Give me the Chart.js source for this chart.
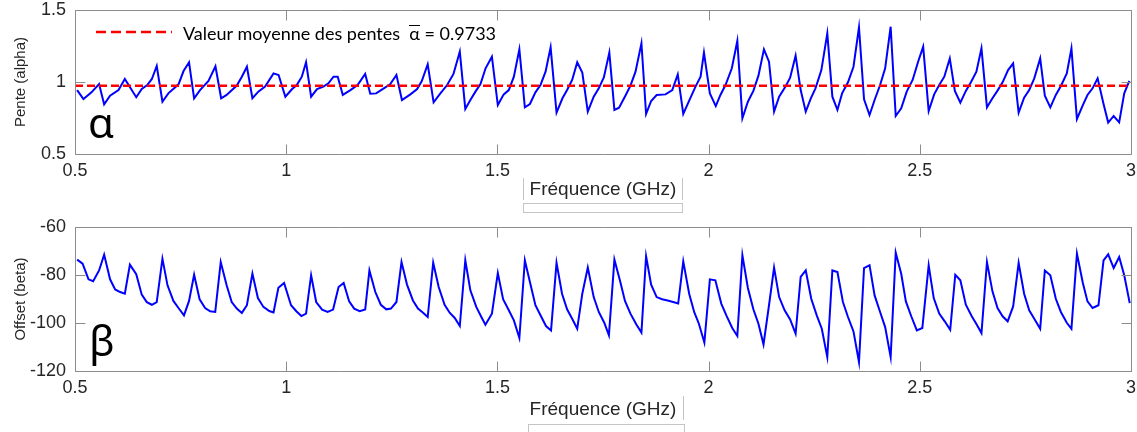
<!DOCTYPE html>
<html><head><meta charset="utf-8">
<script src="https://cdn.jsdelivr.net/npm/chart.js@4.4.0/dist/chart.umd.min.js"></script>
<style>
html,body{margin:0;padding:0;background:#fff;width:1137px;height:432px;overflow:hidden;}
#wrap{position:relative;width:1137px;height:432px;}
canvas{position:absolute;left:0;}
.ov{position:absolute;white-space:nowrap;color:#000;}
.gl{position:absolute;background:#c4c4c4;}
.gb{position:absolute;border:1px solid #c4c4c4;box-sizing:border-box;}
</style></head><body>
<div id="wrap">
<canvas id="c1" width="1137" height="216" style="top:0"></canvas>
<canvas id="c2" width="1137" height="216" style="top:216px"></canvas>
<svg class="ov" style="left:94px;top:28px" width="80" height="8"><line x1="2" y1="4" x2="78" y2="4" stroke="#ff0000" stroke-width="2.5" stroke-dasharray="10,5"/></svg>
<div class="ov" id="leg" style="left:183px;top:24px;font-family:Lato;font-size:18px;line-height:1;">Valeur moyenne des pentes&nbsp;&nbsp;<span style="display:inline-block;border-top:1.5px solid #000;line-height:0.8em;">α</span> = 0.9733</div>
<div class="ov" style="left:88px;top:101px;font-family:'Noto Sans';font-size:42px;line-height:1;">α</div>
<div class="ov" style="left:89px;top:319px;font-family:'Noto Sans';font-size:42px;line-height:1;">β</div>
<div class="gl" style="left:523px;top:178px;width:1px;height:22px;"></div>
<div class="gl" style="left:682px;top:178px;width:1px;height:22px;"></div>
<div class="gb" style="left:523px;top:203px;width:160px;height:10px;"></div>
<div class="gl" style="left:683px;top:396px;width:1px;height:24px;"></div>
<div class="gb" style="left:528px;top:424px;width:157px;height:12px;"></div>
</div>
<script>
const xTicks = [0.5, 1, 1.5, 2, 2.5, 3];
const alphaTicks = [0.5, 1, 1.5];
const betaTicks = [-120, -100, -80, -60];
const meanAlpha = 0.9733;

const freqAlpha = [0.505,0.520,0.539,0.557,0.569,0.583,0.603,0.618,0.645,0.658,0.671,0.682,0.6935,0.707,0.721,0.745,0.757,0.770,0.782,0.796,0.816,0.8325,0.846,0.859,0.883,0.895,0.907,0.920,0.934,0.950,0.970,0.982,
0.998,1.014,1.025,1.037,1.047,1.059,1.073,1.088,1.100,1.112,1.122,1.134,1.152,1.169,1.187,1.199,1.213,1.231,1.246,1.261,1.274,1.294,1.310,1.321,1.335,1.349,1.365,1.381,1.396,1.411,1.424,1.436,1.448,1.460,1.472,1.487,
1.501,1.515,1.527,1.539,1.552,1.565,1.577,1.590,1.602,1.614,1.626,1.640,1.654,1.665,1.677,1.689,1.701,1.714,1.728,1.740,1.752,1.765,1.777,1.788,1.803,1.815,1.827,1.841,1.852,1.864,1.877,1.898,1.914,1.927,1.940,1.953,1.969,1.981,
1.989,2.003,2.017,2.028,2.040,2.055,2.068,2.080,2.093,2.106,2.118,2.131,2.143,2.155,2.167,2.182,2.193,2.206,2.218,2.230,2.242,2.253,2.267,2.281,2.293,2.305,2.316,2.330,2.343,2.356,2.368,2.381,2.393,2.406,2.418,2.431,2.443,2.456,2.469,
2.483,2.496,2.508,2.521,2.534,2.546,2.558,2.571,2.583,2.596,2.609,2.621,2.634,2.646,2.659,2.672,2.684,2.696,2.709,2.721,2.734,2.747,2.759,2.771,2.785,2.796,2.809,2.822,2.834,2.848,2.859,2.872,2.886,2.897,2.909,2.921,2.935,2.946,2.959,2.972,2.984,2.996];
const alpha = [0.944,0.882,0.928,0.986,0.845,0.905,0.944,1.021,0.894,0.951,0.979,1.021,1.111,0.863,0.921,0.984,1.076,1.137,0.887,0.944,1.007,1.109,0.887,0.910,0.975,1.037,1.106,0.887,0.933,0.968,1.060,1.049,
0.898,0.951,0.979,1.037,1.137,0.898,0.951,0.968,0.991,1.037,1.037,0.910,0.944,0.979,1.056,0.919,0.921,0.956,0.984,1.049,0.875,0.914,0.951,1.007,1.123,0.859,0.921,0.979,1.056,1.211,0.813,0.875,0.933,0.985,1.095,1.176,
0.840,0.914,0.944,1.037,1.227,0.824,0.847,0.928,0.979,1.072,1.241,0.787,0.887,0.944,1.014,1.137,1.065,0.794,0.898,0.956,1.032,1.204,0.806,0.822,0.905,0.975,1.072,1.269,0.778,0.868,0.910,0.914,0.944,1.053,0.778,0.864,0.968,1.037,
1.204,0.921,0.833,0.910,0.979,1.095,1.285,0.748,0.863,0.938,1.044,1.227,1.141,0.794,0.898,0.968,1.030,1.183,0.944,0.794,0.887,0.956,1.083,1.338,0.898,0.806,0.921,0.998,1.106,1.380,0.880,0.771,0.875,0.979,1.095,1.384,0.764,0.817,0.933,
1.014,1.141,1.245,0.799,0.914,0.979,1.037,1.164,0.938,0.856,0.938,0.998,1.072,1.234,0.824,0.887,0.940,0.998,1.083,1.130,0.787,0.891,0.944,1.025,1.164,0.905,0.824,0.910,0.972,1.060,1.234,0.743,0.840,0.910,0.956,1.025,0.847,0.718,0.764,0.720,0.921,1.007];

const freqBeta = [0.505,0.518,0.532,0.543,0.557,0.569,0.583,0.595,0.607,0.618,0.630,0.645,0.658,0.670,0.682,0.6935,0.707,0.719,0.733,0.745,0.758,0.770,0.782,0.795,0.808,0.820,0.832,0.845,0.859,0.871,0.883,0.895,0.907,0.920,0.933,0.946,0.960,0.970,0.9815,0.995,
1.0115,1.024,1.036,1.047,1.059,1.071,1.085,1.098,1.111,1.124,1.136,1.149,1.161,1.174,1.187,1.197,1.211,1.224,1.237,1.248,1.261,1.273,1.286,1.300,1.312,1.324,1.335,1.348,1.361,1.375,1.387,1.399,1.411,1.424,1.436,1.450,1.462,1.4716,1.487,
1.501,1.5135,1.527,1.539,1.552,1.565,1.577,1.590,1.602,1.615,1.627,1.640,1.653,1.665,1.677,1.689,1.701,1.714,1.728,1.740,1.753,1.764,1.777,1.790,1.802,1.815,1.829,1.841,1.852,1.864,1.877,1.890,1.903,1.916,1.928,1.940,1.954,1.966,1.977,1.990,
2.003,2.016,2.030,2.042,2.056,2.068,2.080,2.093,2.106,2.118,2.130,2.143,2.155,2.167,2.180,2.193,2.206,2.218,2.230,2.243,2.256,2.268,2.281,2.293,2.305,2.318,2.330,2.343,2.356,2.368,2.381,2.393,2.406,2.418,2.431,2.443,2.456,2.467,2.480,2.493,
2.506,2.521,2.533,2.546,2.559,2.572,2.584,2.596,2.609,2.623,2.635,2.646,2.659,2.672,2.684,2.696,2.708,2.721,2.734,2.747,2.759,2.771,2.785,2.796,2.809,2.822,2.834,2.848,2.859,2.872,2.886,2.897,2.909,2.923,2.935,2.946,2.959,2.972,2.984,2.997];
const beta = [-73.6,-75.3,-81.8,-82.6,-78.1,-71.5,-81.8,-86.0,-87.1,-87.8,-75.7,-79.7,-88.2,-91.3,-92.4,-91.3,-73.2,-84.3,-90.8,-93.75,-96.8,-90.8,-79.9,-90.1,-93.75,-95.1,-95.4,-74.6,-84.3,-91.3,-94.0,-95.8,-92.6,-79.4,-89.6,-93.3,-95.0,-95.6,-85.3,-83.3,
-92.6,-95.1,-97.1,-96.1,-80.1,-91.25,-94.4,-95.4,-94.4,-85.0,-83.3,-91.0,-94.0,-95.1,-94.4,-78.1,-87.1,-92.4,-94.3,-94.0,-91.25,-74.6,-84.0,-90.6,-94.0,-95.7,-97.5,-74.9,-85.0,-92.4,-95.7,-97.9,-101.25,-73.9,-86.4,-93.3,-97.5,-100.7,-96.1,
-79.2,-90.1,-94.7,-98.9,-106.25,-73.9,-82.9,-92.6,-96.8,-101.25,-103.1,-74.9,-87.8,-94.3,-98.2,-102.4,-87.8,-76.9,-89.2,-95.4,-99.9,-105.1,-73.6,-82.2,-90.8,-96.1,-100.6,-104.0,-72.2,-84.0,-89.2,-90.1,-90.6,-91.25,-91.9,-74.3,-87.8,-95.5,-100.3,-108.2,
-81.8,-82.2,-91.9,-96.8,-102.1,-105.4,-71.8,-85.4,-94.3,-100.3,-108.9,-92.6,-76.9,-89.2,-94.7,-98.5,-104.4,-80.8,-78.1,-89.9,-96.8,-102.4,-114.2,-78.1,-78.75,-91.25,-97.5,-103.5,-116.25,-77.1,-75.9,-88.5,-95.4,-101.7,-114.2,-70.7,-79.5,-91.0,-97.3,-103.1,
-102.1,-76.0,-89.6,-96.1,-99.3,-102.8,-79.9,-82.2,-92.4,-97.2,-100.7,-104.2,-74.6,-86.8,-93.75,-97.2,-99.3,-93.1,-75.0,-87.8,-94.7,-98.2,-102.4,-78.1,-80.1,-89.9,-95.4,-99.9,-102.4,-71.1,-83.3,-91.0,-93.75,-92.6,-73.9,-71.4,-77.1,-72.5,-80.1,-91.7];

const AX = '#8c8c8c';
const TXT = '#262626';
const FONT = 'Liberation Sans';

const boxTicks = {
  id: 'boxTicks',
  afterDraw(chart) {
    const {ctx, chartArea: {left, right, top, bottom}, scales: {x, y}} = chart;
    ctx.save();
    ctx.strokeStyle = AX; ctx.lineWidth = 1;
    ctx.beginPath();
    const L = Math.round(left) + 0.5, R = Math.round(right) + 0.5, T = Math.round(top) + 0.5, B = Math.round(bottom) + 0.5;
    ctx.rect(L, T, R - L, B - T);
    x.ticks.forEach(t => {
      const px = Math.round(x.getPixelForValue(t.value)) + 0.5;
      ctx.moveTo(px, B); ctx.lineTo(px, B - 10);
      ctx.moveTo(px, T); ctx.lineTo(px, T + 10);
    });
    y.ticks.forEach(t => {
      const py = Math.round(y.getPixelForValue(t.value)) + 0.5;
      ctx.moveTo(L, py); ctx.lineTo(L + 10, py);
      ctx.moveTo(R, py); ctx.lineTo(R - 10, py);
    });
    ctx.stroke();
    ctx.restore();
  }
};

function makeChart(id, opts) {
  const datasets = [];
  if (opts.mean !== undefined) {
    datasets.push({
      data: [{x: xTicks[0], y: opts.mean}, {x: xTicks[xTicks.length - 1], y: opts.mean}],
      borderColor: '#ff0000', borderWidth: 2.5, borderDash: [8, 4], pointRadius: 0, fill: false
    });
  }
  datasets.push({
    data: opts.xs.map((f, i) => ({x: f, y: opts.ys[i]})),
    borderColor: '#0000ff', borderWidth: 2, pointRadius: 0, tension: 0, fill: false
  });
  return new Chart(document.getElementById(id), {
    type: 'line',
    data: {datasets},
    plugins: [boxTicks],
    options: {
      responsive: false, animation: false, devicePixelRatio: 1,
      layout: {padding: {top: opts.padTop, right: 6, bottom: 0, left: 0}},
      plugins: {legend: {display: false}, tooltip: {enabled: false}},
      scales: {
        x: {
          type: 'linear', min: 0.5, max: 3,
          afterBuildTicks: s => { s.ticks = xTicks.map(v => ({value: v})); },
          afterFit: s => { s.height = opts.xH; s.paddingLeft = 0; s.paddingRight = 0; },
          grid: {display: false, drawTicks: false}, border: {display: false},
          ticks: {font: {family: FONT, size: 18}, color: TXT, padding: 6, maxRotation: 0, autoSkip: false, callback: v => String(v)},
          title: {display: true, text: 'Fréquence (GHz)', color: TXT, font: {family: FONT, size: 19}, padding: {top: 0, bottom: opts.xTitlePad}}
        },
        y: {
          type: 'linear', min: opts.yMin, max: opts.yMax,
          afterBuildTicks: s => { s.ticks = opts.yTicks.map(v => ({value: v})); },
          afterFit: s => { s.width = 75; s.paddingTop = 0; s.paddingBottom = 0; },
          grid: {display: false, drawTicks: false}, border: {display: false},
          ticks: {font: {family: FONT, size: 18}, color: TXT, padding: 9, autoSkip: false, callback: v => String(v)},
          title: {display: true, text: opts.yTitle, color: TXT, font: {family: FONT, size: 15}, padding: {top: 12, bottom: 0}}
        }
      }
    }
  });
}

makeChart('c1', {xs: freqAlpha, ys: alpha, mean: meanAlpha, yMin: 0.5, yMax: 1.5, yTicks: alphaTicks, yTitle: 'Pente (alpha)', padTop: 10, xH: 62, xTitlePad: 15});
makeChart('c2', {xs: freqBeta, ys: beta, yMin: -120, yMax: -60, yTicks: betaTicks, yTitle: 'Offset (beta)', padTop: 11, xH: 61, xTitlePad: 11});
</script>
</body></html>
